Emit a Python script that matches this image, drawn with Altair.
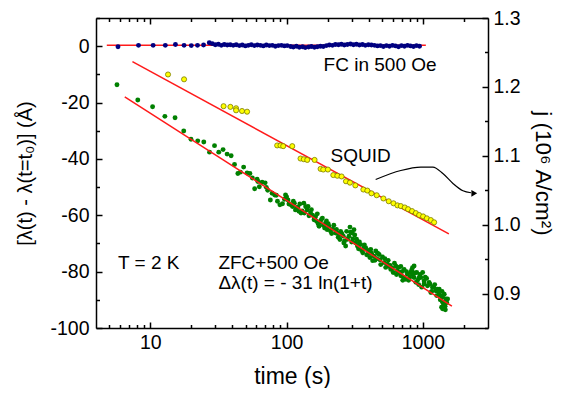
import altair as alt
import pandas as pd

FONT = "Liberation Sans"

# ---------------- data ----------------
# FC in 500 Oe (navy), time in s, delta lambda in Angstrom
fc_t = [5.8, 8.2, 10.5, 12.9, 15.3, 17.7, 20.0, 22.2, 24.6, 27.1,
        28.5, 30.0, 31.6, 33.2, 34.9, 36.7, 38.6,
        40.6, 42.7, 45.0, 47.3, 49.8, 52.4, 55.1, 58.0, 61.0, 64.2, 67.5, 71.0, 74.7,
        78.6, 82.7, 87.0, 91.6, 96.3, 101,
        107, 112, 118, 124, 131, 137, 145, 152, 160, 168, 177, 186,
        196, 206, 217, 228, 240, 252, 265, 279, 294, 309, 325, 342, 360, 378, 398, 419,
        441, 464, 488, 513, 540, 568, 598, 629, 662, 696, 732, 770, 810, 853, 897, 944]
fc_lam = [-0.2, 0.3, 0.3, 0.3, 0.6, 0.3, 0.2, 0.3, 0.4, 1.2,
          0.9, 0.5, 0.7, 0.3, 0.6, 0.4, 0.5,
          0.3, 0.5, 0.2, 0.4, 0.1, 0.3, 0.5, 0.2, 0.4, 0.3, 0.1, 0.4, 0.2,
          0.3, 0.0, 0.2, 0.3, 0.1, 0.2,
          -0.1, -0.3, 0.0, -0.4, -0.2, -0.5, -0.3, -0.1, -0.4, -0.2, 0.0, -0.1,
          0.2, 0.4, 0.3, 0.6, 0.5, 0.7, 0.4, 0.6, 0.8, 0.5, 0.7, 0.4, 0.6, 0.3, 0.5, 0.4,
          0.3, 0.1, 0.2, -0.1, 0.2, 0.0, 0.3, 0.1, -0.2, 0.2, 0.0, 0.3, 0.1, -0.1, 0.2, 0.0]

# ZFC + 500 Oe (green): (time s, delta lambda A)
zfc_points = [
    (5.7, -13.7), (8.1, -19.1), (10.4, -21.5), (12.8, -24.9), (15.2, -25.4),
    (17.6, -30.1), (19.9, -33.0), (22.3, -33.6), (24.7, -34.0), (27.2, -37.6),
    (29.6, -35.3), (31.8, -37.6), (34.2, -36.7), (36.6, -38.3), (39.2, -38.9),
    (41.5, -42.0), (43.9, -45.2), (45.8, -44.7), (48.4, -42.9), (51.3, -45.0),
    (53.8, -45.2), (56.1, -46.8), (58.3, -50.6), (60.8, -47.2), (63.1, -49.9),
    (66.1, -48.3), (69.6, -48.5), (72.7, -51.1), (76.0, -54.6), (78.3, -52.2),
    (81.8, -52.8), (85.7, -55.0), (89.3, -56.3), (93.3, -55.9), (98.2, -52.8),
    (102.4, -54.6), (107.7, -56.3), (110.4, -56.9), (116.1, -58.1), (123, -58.6),
    (127.6, -59.2), (133.8, -55.7), (141.6, -58.1), (143.6, -56.9), (149.8, -59.2),
    (159, -61.6), (160.3, -61.0), (170.2, -63.0), (173, -63.9), (179.6, -61.6),
    (193, -62.8), (198.7, -65.1), (204.3, -63.9), (218.6, -64.9), (228.7, -66.3),
    (235.5, -66.3), (246, -68.6), (249, -65.7), (260.6, -67.4), (271, -70.9),
    (275.5, -65.7), (286.5, -67.4), (291.5, -64.2), (303.6, -66.3), (311.9, -65.1),
    (320.9, -69.8), (330.5, -70.9), (349, -70.4), (369, -71.5), (380, -71.5),
    (402, -73.3), (414, -72.1), (438, -74.5), (451, -72.7), (477, -73.9),
    (519, -76.8), (549, -77.4), (581, -79.2), (632, -78.0), (668, -80.3),
    (688, -81.5), (728, -79.2), (748, -82.7), (770, -80.9), (815, -80.3),
    (838, -78.6), (861, -78.0), (861, -82.1), (887, -83.8), (938, -82.1),
    (965, -82.1), (1020, -84.4), (1020, -83.3), (1110, -83.8), (1175, -85.6),
    (1244, -86.8), (1280, -86.2), (1316, -86.2), (1354, -88.5), (1393, -89.1),
    (1433, -88.0), (1393, -90.9), (1433, -90.9), (1393, -93.2), (1473, -89.7),
    (1516, -89.7),
    (186, -63.5), (210, -65.6), (242, -67.0), (266, -69.1), (306, -68.4),
    (337, -71.9), (362, -73.3), (387, -74.0), (428, -76.1), (458, -75.4),
    (490, -77.5), (526, -75.4), (566, -78.2), (605, -80.3), (647, -79.6),
    (688, -78.2), (711, -83.1), (785, -83.1), (840, -81.0), (900, -80.3),
    (930, -84.6), (995, -80.3), (1064, -82.4), (1143, -87.4), (1220, -84.6),
    (1310, -88.1), (1453, -92.3), (1370, -92.6), (61.5, -48.0), (71, -50.1),
    (84, -52.9), (96.5, -54.3), (114, -55.7), (121, -57.1), (135, -59.2),
    (155, -60.0), (166, -62.1),
    (100, -53.5), (104, -56.0), (112, -55.0), (118, -57.5), (125, -56.0),
    (130, -58.5), (138, -57.0), (146, -60.2), (152, -58.0), (163, -60.5),
    (168, -59.5), (176, -62.5), (183, -61.0), (190, -64.5), (196, -62.0),
    (202, -63.0), (214, -66.5), (222, -63.5), (232, -65.0), (239, -67.8),
    (254, -66.5), (263, -69.8), (280, -68.5), (295, -66.0), (300, -69.5),
    (316, -67.0), (326, -68.5), (342, -69.5), (355, -72.5), (372, -70.5),
    (395, -72.5), (408, -75.0), (420, -73.5), (445, -76.0), (465, -73.5),
    (484, -75.8), (505, -74.8), (533, -78.5), (556, -76.0), (575, -77.8),
    (595, -78.8), (618, -77.0), (640, -81.0), (660, -78.5), (700, -80.0),
    (720, -82.0), (758, -80.0), (800, -82.0), (825, -79.5), (870, -80.5),
    (915, -83.0), (950, -81.0), (980, -85.5), (1040, -82.0), (1080, -85.0),
    (1125, -84.5), (1160, -87.0), (1200, -85.5), (1260, -88.5), (1290, -87.0),
    (1340, -90.0), (1415, -91.5), (1495, -91.0), (1380, -87.0), (1460, -93.5),
]

# SQUID (yellow), current density j in 10^6 A/cm^2 (right axis)
squid_t = [13.5, 17.7, 34.5, 38.7, 42.6, 42.6, 47.1, 51.3, 85.3, 90.2, 94.4, 110,
           126.5, 133.7, 141.7, 160.4, 177.5, 185.7, 200.8, 220, 235.6, 253,
           272.5, 291.5, 319.3, 365.6, 391, 419, 458, 513, 561, 608, 650, 688,
           736, 778, 832, 887, 938, 1003, 1068, 1142, 1208]
squid_j = [1.218, 1.211, 1.172, 1.171, 1.169, 1.166, 1.165, 1.164, 1.115, 1.115, 1.114, 1.114,
           1.096, 1.095, 1.094, 1.094, 1.081, 1.080, 1.080, 1.072, 1.071, 1.070,
           1.063, 1.061, 1.057, 1.051, 1.0495, 1.0455, 1.0427, 1.038, 1.034, 1.031, 1.028, 1.027,
           1.025, 1.0225, 1.0197, 1.0168, 1.014, 1.012, 1.0092, 1.0067, 1.0034]

# fitted lines (end points)
fc_fit_t = [4.8, 1050]
fc_fit_lam = [0.3, 0.3]
zfc_fit_t = [6.5, 1630]
zfc_fit_lam = [-18.0, -92.2]
squid_fit_t = [7.4, 1549]
squid_fit_j = [1.2367, 0.9866]

# annotations
ann_text = ["FC in 500 Oe", "SQUID", "T = 2 K", "ZFC+500 Oe", "Δλ(t) = - 31 ln(1+t)"]
ann_t = [186.7, 210, 5.8, 31.6, 31.6]
ann_lam = [-8.9, -41.1, -78.9, -78.9, -86.2]

arrow_t = [450, 688, 965, 1183, 1400, 1660, 1965, 2250]
arrow_lam = [-47.3, -44.1, -42.9, -42.9, -45.2, -48.7, -51.3, -52.0]
arrow_head_t = [2380]
arrow_head_lam = [-52.2]

x_ticks = [5, 6, 7, 8, 9, 10, 20, 30, 40, 50, 60, 70, 80, 90, 100,
           200, 300, 400, 500, 600, 700, 800, 900, 1000, 2000]
lam_ticks = [-100, -90, -80, -70, -60, -50, -40, -30, -20, -10, 0, 10]
j_ticks = [0.85, 0.9, 0.95, 1.0, 1.05, 1.1, 1.15, 1.2, 1.25, 1.3]

# ---------------- frames ----------------
fc_df = pd.DataFrame({"t": fc_t, "v": fc_lam})
zfc_df = pd.DataFrame(zfc_points, columns=["t", "v"])
squid_df = pd.DataFrame({"t": squid_t, "v": squid_j})
fc_fit_df = pd.DataFrame({"t": fc_fit_t, "v": fc_fit_lam})
zfc_fit_df = pd.DataFrame({"t": zfc_fit_t, "v": zfc_fit_lam})
squid_fit_df = pd.DataFrame({"t": squid_fit_t, "v": squid_fit_j})
ann_df = pd.DataFrame({"t": ann_t, "v": ann_lam, "label": ann_text})
arrow_df = pd.DataFrame({"t": arrow_t, "v": arrow_lam})
head_df = pd.DataFrame({"t": arrow_head_t, "v": arrow_head_lam})

# ---------------- scales / axes ----------------
x_scale = alt.Scale(type="log", domain=[4, 3000], nice=False)
lam_scale = alt.Scale(domain=[-100, 10], nice=False, zero=False)
j_scale = alt.Scale(domain=[0.85, 1.3], nice=False, zero=False)

major_x = "(datum.value == 10 || datum.value == 100 || datum.value == 1000)"
major_lam = "(datum.value % 20 == 0)"
major_j = "(abs(datum.value * 10 - round(datum.value * 10)) < 0.01)"

x_axis_bottom = alt.Axis(
    orient="bottom", values=x_ticks, title="time (s)",
    labelExpr=f"{major_x} ? '' + datum.value : ''",
    tickSize={"expr": f"{major_x} ? -6 : -3.5"},
    labelPadding=11, titlePadding=11, titleFontSize=23,
    labelOverlap=False, labelFlush=False,
)
x_axis_top = alt.Axis(
    orient="top", values=x_ticks, title=None, labels=False,
    tickSize={"expr": f"{major_x} ? -6 : -3.5"},
)
lam_axis = alt.Axis(
    orient="left", values=lam_ticks, title="[λ(t) - λ(t=t₀)] (Å)",
    labelExpr=f"{major_lam} ? '' + datum.value : ''",
    tickSize={"expr": f"{major_lam} ? -6 : -3.5"},
    labelPadding=13, titlePadding=14, titleFontSize=20,
    labelOverlap=False, labelFlush=False,
)
j_axis = alt.Axis(
    orient="right", values=j_ticks, title="j (10⁶ A/cm²)",
    labelExpr=f"{major_j} ? format(datum.value, '.1f') : ''",
    tickSize={"expr": f"{major_j} ? -6 : -3.5"},
    labelPadding=11, titlePadding=10, titleFontSize=22.5,
    labelOverlap=False, labelFlush=False,
)

xA = alt.X("t:Q", scale=x_scale, axis=x_axis_bottom)
yA = alt.Y("v:Q", scale=lam_scale, axis=lam_axis)
xB = alt.X("t:Q", scale=x_scale, axis=x_axis_top)
yB = alt.Y("v:Q", scale=j_scale, axis=j_axis)

# ---------------- left-axis group ----------------
fc_fit = alt.Chart(fc_fit_df).mark_line(color="#ff1a1a", strokeWidth=1.5).encode(x=xA, y=yA)
fc_pts = alt.Chart(fc_df).mark_circle(size=24, color="#000080", opacity=1).encode(x=xA, y=yA)
zfc_pts = alt.Chart(zfc_df).mark_circle(size=24, color="#008000", opacity=1).encode(x=xA, y=yA)
zfc_fit = alt.Chart(zfc_fit_df).mark_line(color="#ff1a1a", strokeWidth=1.5).encode(x=xA, y=yA)
texts = alt.Chart(ann_df).mark_text(
    align="left", baseline="alphabetic", font=FONT, fontSize=19, color="black"
).encode(x=xA, y=yA, text="label:N")
arrow = alt.Chart(arrow_df).mark_line(
    color="black", strokeWidth=1.2, interpolate="monotone"
).encode(x=xA, y=yA, order="t:Q")
head = alt.Chart(head_df).mark_point(
    shape="triangle-right", filled=True, color="black", size=45, opacity=1
).encode(x=xA, y=yA)

groupA = alt.layer(fc_fit, fc_pts, zfc_pts, zfc_fit, texts, arrow, head)

# ---------------- right-axis group ----------------
squid_fit = alt.Chart(squid_fit_df).mark_line(color="#ff1a1a", strokeWidth=1.5).encode(x=xB, y=yB)
squid_pts = alt.Chart(squid_df).mark_point(
    shape="circle", filled=True, fill="#ffff00", stroke="#7a7a00",
    strokeWidth=0.8, size=26, opacity=1
).encode(x=xB, y=yB)
groupB = alt.layer(squid_fit, squid_pts)

chart = (
    alt.layer(groupA, groupB)
    .resolve_scale(y="independent")
    .resolve_axis(x="independent", y="independent")
    .properties(
        width=392, height=310, autosize="none",
        padding={"left": 88, "top": 10, "right": 70, "bottom": 60},
        background="white",
    )
    .configure_view(stroke=None)
    .configure_axis(
        grid=False, domainColor="black", domainWidth=1.5,
        tickColor="black", tickWidth=1.5,
        labelFont=FONT, labelFontSize=19.5, labelColor="black",
        titleFont=FONT, titleFontWeight="normal", titleColor="black",
    )
)

chart.save("out.html", embed_options={"renderer": "svg", "actions": False})
